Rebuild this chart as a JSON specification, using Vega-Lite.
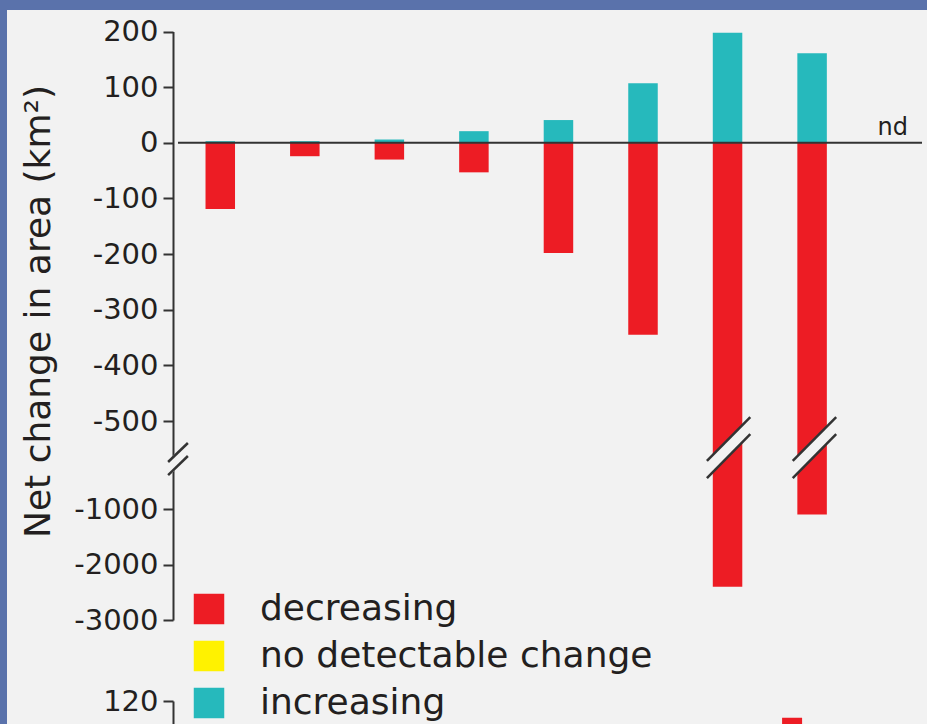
{
  "$schema": "https://vega.github.io/schema/vega-lite/v6.json",
  "width": 920,
  "height": 714,
  "autosize": {"type": "none"},
  "padding": {"left": 7, "top": 10, "right": 0, "bottom": 0},
  "background": "#5a72ab",
  "config": {
    "font": "DejaVu Sans",
    "view": {"fill": "#f2f2f2", "stroke": null},
    "axis": {
      "grid": false,
      "domainColor": "#333333",
      "domainWidth": 2,
      "tickColor": "#333333",
      "tickWidth": 2,
      "tickSize": 10,
      "labelFontSize": 29,
      "labelColor": "#231f20",
      "labelPadding": 5,
      "labelFont": "DejaVu Sans",
      "titleFont": "DejaVu Sans",
      "titleColor": "#231f20",
      "titleFontWeight": "normal"
    },
    "legend": {
      "padding": 0,
      "labelFontSize": 36,
      "labelColor": "#231f20",
      "labelFont": "DejaVu Sans",
      "labelLimit": 0,
      "symbolType": "square",
      "symbolSize": 930,
      "symbolStrokeWidth": 0,
      "symbolOpacity": 1,
      "labelOffset": 33,
      "rowPadding": 11
    }
  },
  "datasets": {
    "bars": [
      {"class": 1, "status": "decreasing", "value": -119},
      {"class": 1, "status": "increasing", "value": 3},
      {"class": 2, "status": "decreasing", "value": -24},
      {"class": 2, "status": "increasing", "value": 3},
      {"class": 3, "status": "decreasing", "value": -30},
      {"class": 3, "status": "increasing", "value": 6},
      {"class": 4, "status": "decreasing", "value": -53},
      {"class": 4, "status": "increasing", "value": 21},
      {"class": 5, "status": "decreasing", "value": -198},
      {"class": 5, "status": "increasing", "value": 41},
      {"class": 6, "status": "decreasing", "value": -345},
      {"class": 6, "status": "increasing", "value": 107},
      {"class": 7, "status": "decreasing", "value": -2400},
      {"class": 7, "status": "increasing", "value": 198},
      {"class": 8, "status": "decreasing", "value": -1100},
      {"class": 8, "status": "increasing", "value": 161}
    ],
    "notes": [{"class": 9, "label": "nd"}],
    "zero": [{"from": 0.5, "to": 9.3, "value": 0}],
    "bottom": [{"class": 8, "status": "decreasing", "count": 110}],
    "breakGaps": [
      {"x1": 0.383, "y1": -770, "x2": 0.617, "y2": -662},
      {"x1": 6.756, "y1": -776, "x2": 7.269, "y2": -526},
      {"x1": 7.771, "y1": -776, "x2": 8.285, "y2": -526}
    ],
    "breakLines": [
      {"x1": 0.383, "y1": -733, "x2": 0.617, "y2": -625},
      {"x1": 0.383, "y1": -807, "x2": 0.617, "y2": -699},
      {"x1": 6.756, "y1": -727, "x2": 7.269, "y2": -493},
      {"x1": 6.756, "y1": -824, "x2": 7.269, "y2": -574},
      {"x1": 7.771, "y1": -727, "x2": 8.285, "y2": -493},
      {"x1": 7.771, "y1": -824, "x2": 8.285, "y2": -574}
    ]
  },
  "layer": [
    {
      "layer": [
        {
          "data": {"name": "bars"},
          "mark": {"type": "bar", "width": 29.5},
          "encoding": {
            "x": {
              "field": "class",
              "type": "quantitative",
              "scale": {"domain": [0.5, 9.3], "range": [166, 920], "nice": false, "zero": false},
              "axis": null
            },
            "y": {
              "field": "value",
              "type": "quantitative",
              "scale": {"domain": [-3000, -1000, -500, 200], "range": [610, 499, 411, 21.6], "nice": false, "zero": false},
              "axis": {
                "values": [200, 100, 0, -100, -200, -300, -400, -500, -1000, -2000, -3000],
                "labelExpr": "'' + datum.value",
                "offset": -166,
                "title": "Net change in area (km²)",
                "titleFontSize": 36,
                "titleAngle": -90,
                "titleAlign": "center",
                "titleBaseline": "middle",
                "titleX": -135,
                "titleY": 301
              }
            },
            "color": {
              "field": "status",
              "type": "nominal",
              "scale": {
                "domain": ["decreasing", "no detectable change", "increasing"],
                "range": ["#ed1c24", "#fff200", "#26b9bc"]
              },
              "legend": {"title": null, "orient": "none", "legendX": 184, "legendY": 581}
            }
          }
        },
        {
          "data": {"name": "zero"},
          "mark": {"type": "rule", "color": "#333333", "strokeWidth": 2},
          "encoding": {
            "x": {"field": "from", "type": "quantitative", "scale": {"domain": [0.5, 9.3], "range": [166, 920], "nice": false, "zero": false}},
            "x2": {"field": "to"},
            "y": {"field": "value", "type": "quantitative", "scale": {"domain": [-3000, -1000, -500, 200], "range": [610, 499, 411, 21.6], "nice": false, "zero": false}}
          }
        },
        {
          "data": {"name": "breakGaps"},
          "mark": {"type": "rule", "color": "#f2f2f2", "strokeWidth": 12, "strokeCap": "butt"},
          "encoding": {
            "x": {"field": "x1", "type": "quantitative", "scale": {"domain": [0.5, 9.3], "range": [166, 920], "nice": false, "zero": false}},
            "x2": {"field": "x2"},
            "y": {"field": "y1", "type": "quantitative", "scale": {"domain": [-3000, -1000, -500, 200], "range": [610, 499, 411, 21.6], "nice": false, "zero": false}},
            "y2": {"field": "y2"}
          }
        },
        {
          "data": {"name": "breakLines"},
          "mark": {"type": "rule", "color": "#333333", "strokeWidth": 2.5},
          "encoding": {
            "x": {"field": "x1", "type": "quantitative", "scale": {"domain": [0.5, 9.3], "range": [166, 920], "nice": false, "zero": false}},
            "x2": {"field": "x2"},
            "y": {"field": "y1", "type": "quantitative", "scale": {"domain": [-3000, -1000, -500, 200], "range": [610, 499, 411, 21.6], "nice": false, "zero": false}},
            "y2": {"field": "y2"}
          }
        },
        {
          "data": {"name": "notes"},
          "mark": {"type": "text", "fontSize": 24, "color": "#231f20", "align": "center", "baseline": "alphabetic", "dy": -8, "dx": -4, "font": "DejaVu Sans"},
          "encoding": {
            "x": {"field": "class", "type": "quantitative", "scale": {"domain": [0.5, 9.3], "range": [166, 920], "nice": false, "zero": false}},
            "y": {"datum": 0, "type": "quantitative", "scale": {"domain": [-3000, -1000, -500, 200], "range": [610, 499, 411, 21.6], "nice": false, "zero": false}},
            "text": {"field": "label"}
          }
        }
      ]
    },
    {
      "data": {"name": "bottom"},
      "mark": {"type": "bar", "width": 20, "xOffset": -20},
      "encoding": {
        "x": {"field": "class", "type": "quantitative", "scale": {"domain": [0.5, 9.3], "range": [166, 920], "nice": false, "zero": false}},
        "y": {
          "field": "count",
          "type": "quantitative",
          "scale": {"domain": [0, 120], "range": [891, 691], "nice": false},
          "axis": {"orient": "left", "values": [120], "offset": -166, "title": null}
        },
        "color": {"field": "status", "type": "nominal"}
      }
    }
  ],
  "resolve": {"scale": {"y": "independent"}, "axis": {"y": "independent"}}
}
